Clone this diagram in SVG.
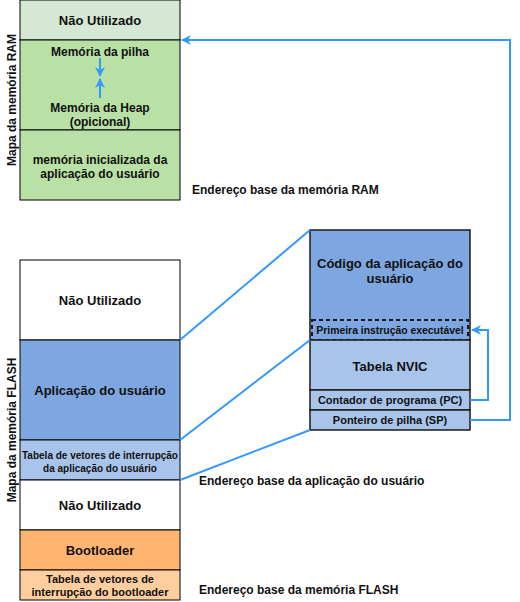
<svg xmlns="http://www.w3.org/2000/svg" width="520" height="602" viewBox="0 0 520 602">
<defs>
<style>
.b{stroke:#000;stroke-width:1}
.r{stroke:#1a1a1a;stroke-width:1.5}
text{font-family:"Liberation Sans",Arial,sans-serif;font-weight:bold;fill:#111;text-anchor:middle}
.t13{font-size:13px}
.t12{font-size:12px}
.t11{font-size:11px}
.t10{font-size:10px}
.lbl{font-size:12px;text-anchor:start}
.c{fill:none;stroke:#3399FF;stroke-width:2}
</style>
<marker id="ahb" viewBox="0 0 10 10" refX="9" refY="5" markerWidth="10" markerHeight="10" orient="auto" markerUnits="userSpaceOnUse">
<path d="M0,0 L10,5 L0,10 L3,5 Z" fill="#3399FF"/>
</marker>
</defs>

<g id="ram-label"><text class="t12" transform="translate(16,100) rotate(-90)">Mapa da memória RAM</text></g>
<g id="flash-label"><text class="t12" transform="translate(16,430) rotate(-90)">Mapa da memória FLASH</text></g>

<g id="ram-unused"><rect class="b" x="20" y="0" width="160" height="40" fill="#D5E8D4"/><text class="t13" x="100" y="25">Não Utilizado</text></g>
<g id="ram-stack-heap"><rect class="b" x="20" y="40" width="160" height="90" fill="#B9E0A5"/>
<text class="t12" x="100" y="56">Memória da pilha</text>
<text class="t12" x="100" y="112">Memória da Heap</text>
<text class="t12" x="100" y="126">(opicional)</text></g>
<g id="ram-init"><rect class="b" x="20" y="130" width="160" height="70" fill="#B9E0A5"/>
<text class="t12" x="100" y="164">memória inicializada da</text>
<text class="t12" x="100" y="178">aplicação do usuário</text></g>

<g id="flash-unused-top"><rect class="b" x="20" y="260" width="160" height="80" fill="#FFFFFF"/><text class="t13" x="100" y="305">Não Utilizado</text></g>
<g id="flash-app"><rect class="b" x="20" y="340" width="160" height="100" fill="#7EA6E0"/><text class="t13" x="100" y="395">Aplicação do usuário</text></g>
<g id="flash-app-vt"><rect class="b" x="20" y="440" width="160" height="40" fill="#A9C4EB"/>
<text class="t10" x="100" y="459">Tabela de vetores de interrupção</text>
<text class="t10" x="100" y="472">da aplicação do usuário</text></g>
<g id="flash-unused-mid"><rect class="b" x="20" y="480" width="160" height="50" fill="#FFFFFF"/><text class="t13" x="100" y="510">Não Utilizado</text></g>
<g id="flash-boot"><rect class="b" x="20" y="530" width="160" height="40" fill="#FFB570"/><text class="t13" x="100" y="555">Bootloader</text></g>
<g id="flash-boot-vt"><rect class="b" x="20" y="570" width="160" height="30" fill="#FFCE9F"/>
<text class="t11" x="100" y="583">Tabela de vetores de</text>
<text class="t11" x="100" y="596">interrupção do bootloader</text></g>

<g id="app-code"><rect class="r" x="310" y="230" width="160" height="110" fill="#7EA6E0"/>
<text class="t13" x="390" y="268">Código da aplicação do</text>
<text class="t13" x="390" y="283">usuário</text></g>
<g id="first-instr"><rect x="312" y="320" width="156" height="20" fill="#7EA6E0" stroke="#1a1a1a" stroke-width="2" stroke-dasharray="4,3"/>
<text class="t10" x="390" y="334" style="font-size:10.4px">Primeira instrução executável</text></g>
<g id="nvic"><rect class="r" x="310" y="340" width="160" height="50" fill="#A9C4EB"/><text class="t13" x="390" y="371">Tabela NVIC</text></g>
<g id="pc"><rect class="r" x="310" y="390" width="160" height="20" fill="#A9C4EB"/><text class="t11" x="390" y="404">Contador de programa (PC)</text></g>
<g id="sp"><rect class="r" x="310" y="410" width="160" height="20" fill="#A9C4EB"/><text class="t11" x="390" y="424">Ponteiro de pilha (SP)</text></g>

<g id="labels">
<text class="lbl" x="192" y="194">Endereço base da memória RAM</text>
<text class="lbl" x="199" y="485">Endereço base da aplicação do usuário</text>
<text class="lbl" x="199" y="594">Endereço base da memória FLASH</text>
</g>

<g id="connectors">
<line class="c" x1="180" y1="340" x2="310" y2="230"/>
<line class="c" x1="180" y1="440" x2="310" y2="340"/>
<line class="c" x1="180" y1="480" x2="310" y2="430"/>
<polyline class="c" points="470,400 488,400 488,330 472,330" marker-end="url(#ahb)"/>
<polyline class="c" points="470,420 510,420 510,40 182,40" marker-end="url(#ahb)"/>
<line class="c" x1="100" y1="58" x2="100" y2="76" marker-end="url(#ahb)"/>
<line class="c" x1="100" y1="98" x2="100" y2="79" marker-end="url(#ahb)"/>
</g>
</svg>
